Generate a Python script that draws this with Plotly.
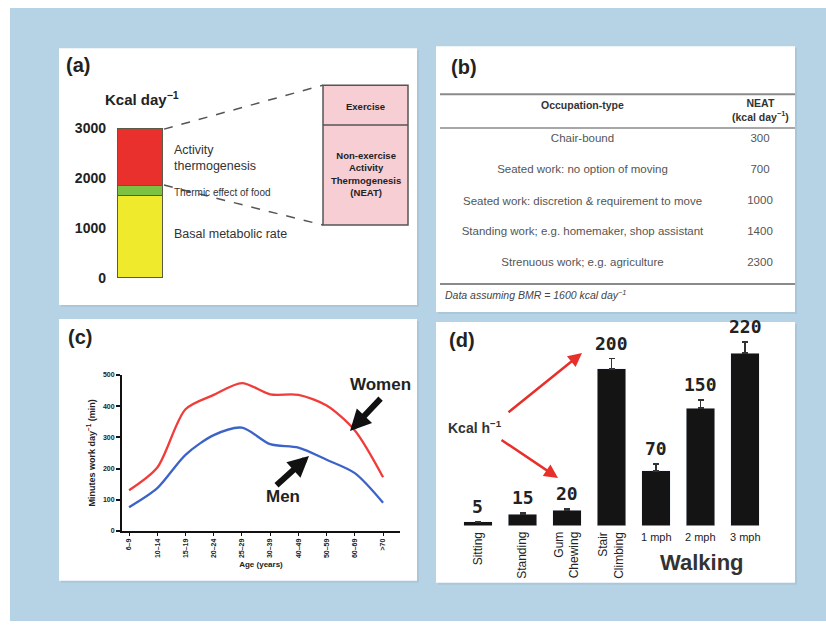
import plotly.graph_objects as go

W, H = 826, 629
FONT = "Liberation Sans, Arial, sans-serif"

# vertical placement of the page content (top offset and scale in px)
PAGE_TOP = 7.8
PAGE_SCALE = 0.9752


def X(px):
    return px / W


def fig_row(py):
    return (py - PAGE_TOP) / PAGE_SCALE


def Y(py):
    return min(1.0, 1 - fig_row(py) / H)


# ---------------- data ----------------
# (a) daily energy expenditure components (kcal/day)
energy_parts = ["Basal metabolic rate", "Thermic effect of food", "Activity thermogenesis"]
energy_values = [1650, 200, 1150]
energy_colors = ["#f0ea2c", "#7cc142", "#e9302d"]
energy_ticks = [0, 1000, 2000, 3000]

# (b) NEAT by occupation
neat_header = ["<b>Occupation-type</b>", "<b>NEAT</b><br><b>(kcal day<sup>−1</sup>)</b>"]
occupations = [
    "Chair-bound",
    "Seated work: no option of moving",
    "Seated work: discretion & requirement to move",
    "Standing work; e.g. homemaker, shop assistant",
    "Strenuous work; e.g. agriculture",
]
neat_values = [300, 700, 1000, 1400, 2300]

# (c) minutes of work per day by age band
age_bands = ["6–9", "10–14", "15–19", "20–24", "25–29", "30–39", "40–49", "50–59", "60–69", ">70"]
women_minutes = [130, 203, 390, 436, 474, 438, 436, 402, 322, 172]
men_minutes = [76, 137, 244, 307, 331, 278, 267, 228, 185, 90]
minute_ticks = [0, 100, 200, 300, 400, 500]

# (d) energy cost of activities (kcal/h)
activities = ["Sitting", "Standing", "Gum Chewing", "Stair Climbing", "1 mph", "2 mph", "3 mph"]
activity_labels = ["Sitting", "Standing", "Gum<br>Chewing", "Stair<br>Climbing", "1 mph", "2 mph", "3 mph"]
kcal_per_hour = [5, 15, 20, 200, 70, 150, 220]
kcal_err = [0, 1.5, 2, 13, 9, 10, 14]

CLEAR = "rgba(0,0,0,0)"

fig = go.Figure()

# ---------------- panel (a): stacked bar ----------------
for name, val, col in zip(energy_parts, energy_values, energy_colors):
    fig.add_trace(go.Bar(
        x=[0], y=[val], name=name, width=1,
        marker=dict(color=col, line=dict(color="#5a5a48", width=1.5)),
        xaxis="x", yaxis="y", showlegend=False, hoverinfo="skip",
    ))

# ---------------- panel (b): table body ----------------
fig.add_trace(go.Table(
    domain=dict(x=[X(440), X(795)], y=[Y(284), Y(109)]),
    columnwidth=[285, 70],
    header=dict(values=[], height=0, fill=dict(color=CLEAR), line=dict(color=CLEAR, width=0)),
    cells=dict(
        values=[occupations, [str(v) for v in neat_values]],
        align="center", height=31,
        fill=dict(color=CLEAR), line=dict(color=CLEAR, width=0),
        font=dict(family=FONT, size=11.5, color="#555"),
    ),
))

# ---------------- panel (c): lines ----------------
fig.add_trace(go.Scatter(
    x=age_bands, y=women_minutes, mode="lines", name="Women",
    line=dict(color="#f03d3a", width=2.3, shape="spline", smoothing=0.8),
    xaxis="x3", yaxis="y3", showlegend=False, hoverinfo="skip",
))
fig.add_trace(go.Scatter(
    x=age_bands, y=men_minutes, mode="lines", name="Men",
    line=dict(color="#3b63c8", width=2.3, shape="spline", smoothing=0.8),
    xaxis="x3", yaxis="y3", showlegend=False, hoverinfo="skip",
))

# ---------------- panel (d): bars ----------------
fig.add_trace(go.Bar(
    x=activities, y=kcal_per_hour, width=0.65,
    marker=dict(color="#141414"),
    error_y=dict(type="data", array=kcal_err, arrayminus=[0] * len(kcal_err),
                 symmetric=False, color="#333", thickness=1.5, width=3),
    xaxis="x4", yaxis="y4", showlegend=False, hoverinfo="skip",
))

shapes = []
annotations = []


def note(text, px, py, size, color="#222", weight="normal", xanchor="center", yanchor="middle",
         align="center", family=FONT):
    annotations.append(dict(text=text, x=X(px), y=Y(py), xref="paper", yref="paper",
                            xanchor=xanchor, yanchor=yanchor, align=align, showarrow=False,
                            font=dict(family=family, size=size, color=color, weight=weight)))


def arrow(head, tail, width, color, size):
    annotations.append(dict(text="", x=X(head[0]), y=Y(head[1]), xref="paper", yref="paper",
                            ax=tail[0] - head[0], ay=fig_row(tail[1]) - fig_row(head[1]),
                            showarrow=True, arrowhead=2, arrowsize=size, arrowwidth=width,
                            arrowcolor=color))


# background and panels
shapes.append(dict(type="rect", xref="paper", yref="paper", x0=X(10), x1=1, y0=0, y1=Y(6),
                   fillcolor="#b5d3e4", line=dict(width=0), layer="below"))
panels = [(59, 48, 417, 305), (436, 46, 795, 312), (59, 319, 417, 581), (436, 322, 795, 583)]
for (x0, y0, x1, y1) in panels:
    shapes.append(dict(type="rect", xref="paper", yref="paper", x0=X(x0 + 2), x1=X(x1 + 2),
                       y0=Y(y1 + 2), y1=Y(y0 + 2),
                       fillcolor="#a9c7d9", line=dict(width=0), layer="below"))
    shapes.append(dict(type="rect", xref="paper", yref="paper", x0=X(x0), x1=X(x1), y0=Y(y1), y1=Y(y0),
                       fillcolor="white", line=dict(width=0), layer="below"))

for txt, px, py in [("(a)", 64, 65), ("(b)", 449, 67), ("(c)", 66, 337), ("(d)", 447, 340)]:
    note(txt, px, py, 20, weight="bold", xanchor="left")

# ---- panel (a) decorations ----
note("Kcal day<sup>−1</sup>", 103, 98, 15, weight="bold", xanchor="left")
note("Activity<br>thermogenesis", 172, 158, 12.5, color="#333", xanchor="left", align="left")
note("Thermic effect of food", 172, 192, 10, color="#333", xanchor="left")
note("Basal metabolic rate", 172, 234, 12.5, color="#333", xanchor="left")

bx0, bx1, by0, bdiv, by1 = 323, 408, 85, 125, 225
shapes.append(dict(type="rect", xref="paper", yref="paper", x0=X(bx0), x1=X(bx1), y0=Y(by1), y1=Y(by0),
                   fillcolor="#f6ced4", line=dict(color="#555", width=1.5)))
shapes.append(dict(type="line", xref="paper", yref="paper", x0=X(bx0), x1=X(bx1), y0=Y(bdiv), y1=Y(bdiv),
                   line=dict(color="#555", width=1.5)))
shapes.append(dict(type="line", xref="paper", yref="paper", x0=X(164), x1=X(bx0), y0=Y(129), y1=Y(by0),
                   line=dict(color="#555", width=1.5, dash="dash")))
shapes.append(dict(type="line", xref="paper", yref="paper", x0=X(164), x1=X(bx0), y0=Y(185), y1=Y(by1),
                   line=dict(color="#555", width=1.5, dash="dash")))
note("Exercise", (bx0 + bx1) / 2, 106, 9.5, weight="bold")
note("Non-exercise<br>Activity<br>Thermogenesis<br>(NEAT)", (bx0 + bx1) / 2, 174, 9.5, weight="bold")

# ---- panel (b) header, rules and footnote ----
for py, lw in [(94, 2), (128, 1.5), (284, 2)]:
    shapes.append(dict(type="line", xref="paper", yref="paper", x0=X(440), x1=X(795), y0=Y(py), y1=Y(py),
                       line=dict(color="#8a8a8a", width=lw)))
note(neat_header[0], 582, 105, 10.5, color="#333")
note(neat_header[1], 760, 110, 10.5, color="#333")
note("<i>Data assuming BMR = 1600 kcal day<sup>−1</sup></i>", 443, 294, 10.5, color="#444", xanchor="left")

# ---- panel (c) annotations ----
note("Women", 380, 385, 17, weight="bold")
note("Men", 283, 497, 17, weight="bold")
arrow((350, 431), (382, 398), 6, "#111", 0.7)
arrow((309, 456), (275, 486), 6, "#111", 0.7)

# ---- panel (d) annotations ----
for cat, val, err in zip(activities, kcal_per_hour, kcal_err):
    annotations.append(dict(text=str(val), x=cat, y=val + err, xref="x4", yref="y4",
                            xanchor="center", yanchor="bottom", yshift=3, showarrow=False,
                            font=dict(family="DejaVu Sans Mono", size=18, color="#222", weight="bold")))
for cat, lab in zip(activities, activity_labels):
    if "mph" in cat:
        annotations.append(dict(text=lab, x=cat, y=Y(537), xref="x4", yref="paper",
                                xanchor="center", yanchor="middle", showarrow=False,
                                font=dict(family=FONT, size=11, color="#222")))
    else:
        annotations.append(dict(text=lab, x=cat, y=Y(530), xref="x4", yref="paper",
                                xanchor="center", yanchor="top", textangle=-90, align="right",
                                showarrow=False, font=dict(family=FONT, size=12, color="#222")))
note("Walking", 702, 563, 22, color="#333", weight="bold")
note("Kcal h<sup>−1</sup>", 475, 427, 14, color="#333", weight="bold")
arrow((582, 353), (507, 412), 2.5, "#e8302a", 1.1)
arrow((558, 478), (500, 440), 2.5, "#e8302a", 1.1)

tickfont_c = dict(family=FONT, size=7, color="#222", weight="bold")

fig.update_layout(
    width=W, height=H,
    margin=dict(l=0, r=0, t=0, b=0),
    paper_bgcolor="white", plot_bgcolor=CLEAR,
    barmode="stack", showlegend=False,
    shapes=shapes, annotations=annotations,
    # panel (a)
    xaxis=dict(domain=[X(117), X(163)], range=[-0.5, 0.5], visible=False, anchor="y"),
    yaxis=dict(domain=[Y(278), Y(128)], range=[0, 3000], anchor="x", tickvals=energy_ticks,
               ticks="", showline=False, showgrid=False, zeroline=False, ticklabelstandoff=10,
               tickfont=dict(family=FONT, size=14, color="#222", weight="bold")),
    # panel (c)
    xaxis3=dict(domain=[X(122), X(400)], range=[-0.25, 9.6], anchor="y3", type="category",
                categoryorder="array", categoryarray=age_bands,
                showline=True, linecolor="#111", linewidth=2, ticks="outside", ticklen=3, tickwidth=1,
                tickcolor="#111", showgrid=False, zeroline=False, tickangle=-90, tickfont=tickfont_c,
                title=dict(text="Age (years)", standoff=4,
                           font=dict(family=FONT, size=8, color="#222", weight="bold"))),
    yaxis3=dict(domain=[Y(531), Y(375)], range=[0, 500], anchor="x3", tickvals=minute_ticks,
                showline=True, linecolor="#111", linewidth=2, ticks="outside", ticklen=4, tickwidth=1.5,
                tickcolor="#111", showgrid=False, zeroline=False, tickfont=tickfont_c,
                title=dict(text="Minutes work day<sup>−1</sup> (min)", standoff=6,
                           font=dict(family=FONT, size=9, color="#222", weight="bold"))),
    # panel (d)
    xaxis4=dict(domain=[X(455.75), X(767.25)], range=[-0.5, 6.5], anchor="y4", type="category",
                categoryorder="array", categoryarray=activities, visible=False),
    yaxis4=dict(domain=[Y(526), Y(329.5)], range=[0, 250], anchor="x4", visible=False),
)

fig.write_html("out.html")
